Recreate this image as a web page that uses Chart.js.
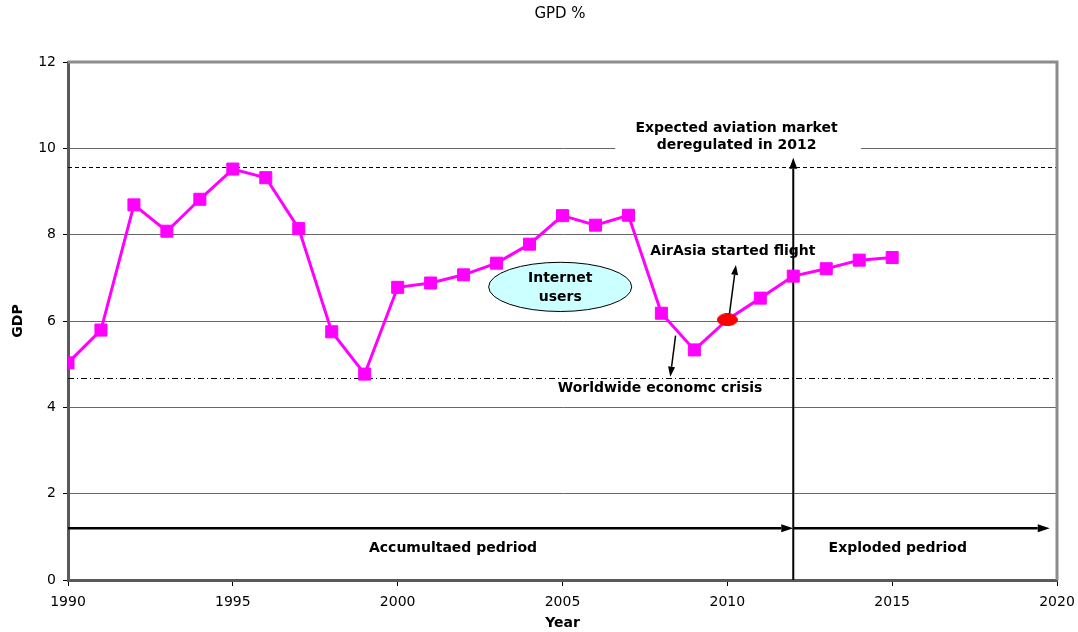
<!DOCTYPE html>
<html>
<head>
<meta charset="utf-8">
<title>GPD %</title>
<script src="https://cdn.jsdelivr.net/npm/chart.js@4.4.0/dist/chart.umd.min.js"></script>
<style>
  html, body { margin: 0; padding: 0; background: #ffffff; }
  #wrap { width: 1078px; height: 632px; }
</style>
</head>
<body>
<div id="wrap"><canvas id="gdpChart" width="1078" height="632"></canvas></div>
<script>
// Annual GDP growth, 1990-2015
const years = [1990, 1991, 1992, 1993, 1994, 1995, 1996, 1997, 1998, 1999, 2000, 2001, 2002,
               2003, 2004, 2005, 2006, 2007, 2008, 2009, 2010, 2011, 2012, 2013, 2014, 2015];
const gdp = [5.03, 5.79, 8.69, 8.08, 8.82, 9.52, 9.32, 8.14, 5.75, 4.77, 6.78, 6.88, 7.07,
             7.34, 7.78, 8.44, 8.22, 8.45, 6.18, 5.33, 6.03, 6.53, 7.04, 7.21, 7.41, 7.47];
const highlightYear = 2010;

const xTickValues = [1990, 1995, 2000, 2005, 2010, 2015, 2020];
const yTickValues = [0, 2, 4, 6, 8, 10, 12];

// Reference levels and milestones
const upperLevel = 9.57;
const lowerLevel = 4.67;
const deregulationYear = 2012;
const periodArrowLevel = 1.2;

const FONT = '"DejaVu Sans", "Liberation Sans", Arial, sans-serif';
const MAGENTA = '#ff00ff';

// Red oval marker for the year AirAsia started flying
function makeOval() {
  const c = document.createElement('canvas');
  c.width = 21; c.height = 13;
  const g = c.getContext('2d');
  g.fillStyle = '#ff0000';
  g.beginPath();
  g.ellipse(10.5, 6.5, 10, 6, 0, 0, Math.PI * 2);
  g.fill();
  g.strokeStyle = '#d00000';
  g.lineWidth = 1;
  g.stroke();
  return c;
}
const oval = makeOval();

const points = years.map((y, i) => ({ x: y, y: gdp[i] }));
const pointStyles = years.map(y => (y === highlightYear ? oval : 'rect'));

function arrow(ctx, x1, y1, x2, y2, width, headLen, headW) {
  const ang = Math.atan2(y2 - y1, x2 - x1);
  const bx = x2 - headLen * Math.cos(ang);
  const by = y2 - headLen * Math.sin(ang);
  ctx.save();
  ctx.strokeStyle = '#000';
  ctx.fillStyle = '#000';
  ctx.lineWidth = width;
  ctx.setLineDash([]);
  ctx.beginPath();
  ctx.moveTo(x1, y1);
  ctx.lineTo(bx, by);
  ctx.stroke();
  ctx.beginPath();
  ctx.moveTo(x2, y2);
  ctx.lineTo(bx + headW / 2 * Math.sin(ang), by - headW / 2 * Math.cos(ang));
  ctx.lineTo(bx - headW / 2 * Math.sin(ang), by + headW / 2 * Math.cos(ang));
  ctx.closePath();
  ctx.fill();
  ctx.restore();
}

function label(ctx, text, x, y, bold, size) {
  ctx.save();
  ctx.fillStyle = '#000';
  ctx.font = (bold ? 'bold ' : '') + size + 'px ' + FONT;
  ctx.textAlign = 'center';
  ctx.textBaseline = 'middle';
  ctx.fillText(text, x, y);
  ctx.restore();
}

const annotations = {
  id: 'annotations',
  beforeDatasetsDraw(chart) {
    const { ctx, chartArea: a, scales: { x, y } } = chart;
    const px = v => x.getPixelForValue(v);
    const py = v => y.getPixelForValue(v);

    ctx.save();
    ctx.beginPath();
    ctx.rect(a.left, a.top, a.right - a.left, a.bottom - a.top);
    ctx.clip();

    // dashed upper level
    ctx.strokeStyle = '#000';
    ctx.lineWidth = 1;
    ctx.setLineDash([4, 3]);
    ctx.beginPath();
    ctx.moveTo(a.left, Math.round(py(upperLevel)) + 0.5);
    ctx.lineTo(a.right, Math.round(py(upperLevel)) + 0.5);
    ctx.stroke();

    // dash-dot lower level
    ctx.setLineDash([6, 3, 1, 3]);
    ctx.beginPath();
    ctx.moveTo(a.left, Math.round(py(lowerLevel)) + 0.5);
    ctx.lineTo(a.right, Math.round(py(lowerLevel)) + 0.5);
    ctx.stroke();
    ctx.setLineDash([]);

    // white label box over the grid
    ctx.fillStyle = '#ffffff';
    ctx.fillRect(px(2006.6), py(10.72), px(2014.05) - px(2006.6), py(9.84) - py(10.72));
    ctx.restore();

    // deregulation marker: vertical arrow at 2012
    arrow(ctx, px(deregulationYear), a.bottom, px(deregulationYear), py(9.78), 2, 11, 8);

    // period arrows
    arrow(ctx, a.left, py(periodArrowLevel), px(deregulationYear), py(periodArrowLevel), 2.5, 12, 8);
    arrow(ctx, px(deregulationYear), py(periodArrowLevel), px(2019.78), py(periodArrowLevel), 2.5, 12, 8);

    // Internet users ellipse
    ctx.save();
    ctx.beginPath();
    ctx.ellipse(px(2004.93), py(6.79), px(2004.93) - px(2002.76), py(6.22) - py(6.79), 0, 0, Math.PI * 2);
    ctx.fillStyle = '#ccffff';
    ctx.fill();
    ctx.strokeStyle = '#000';
    ctx.lineWidth = 1;
    ctx.stroke();
    ctx.restore();
    label(ctx, 'Internet', px(2004.93), py(6.98), true, 14);
    label(ctx, 'users', px(2004.93), py(6.54), true, 14);

    // callouts
    arrow(ctx, px(2010.06), py(6.14), px(2010.26), py(7.30), 1.5, 10, 7);
    arrow(ctx, px(2008.43), py(5.66), px(2008.27), py(4.71), 1.5, 10, 7);

    label(ctx, 'Expected aviation market', px(2010.28), py(10.47), true, 14);
    label(ctx, 'deregulated in 2012', px(2010.28), py(10.06), true, 14);
    label(ctx, 'AirAsia started flight', px(2010.17), py(7.62), true, 14);
    label(ctx, 'Worldwide economc crisis', px(2007.96), py(4.44), true, 14);
    label(ctx, 'Accumultaed pedriod', px(2001.68), py(0.74), true, 14);
    label(ctx, 'Exploded pedriod', px(2015.17), py(0.74), true, 14);

    // gray frame on top and right
    ctx.save();
    ctx.strokeStyle = '#8c8c8c';
    ctx.lineWidth = 3;
    ctx.beginPath();
    ctx.moveTo(a.left, a.top);
    ctx.lineTo(a.right, a.top);
    ctx.lineTo(a.right, a.bottom);
    ctx.stroke();
    ctx.restore();

    // chart title
    label(ctx, 'GPD %', 560, 14, false, 15);
  }
};

new Chart(document.getElementById('gdpChart'), {
  type: 'line',
  data: {
    datasets: [{
      label: 'GDP',
      data: points,
      borderColor: MAGENTA,
      backgroundColor: MAGENTA,
      borderWidth: 3,
      pointStyle: pointStyles,
      pointRadius: 8.5,
      pointBorderWidth: 1,
      pointBorderColor: MAGENTA,
      pointBackgroundColor: MAGENTA,
      tension: 0
    }]
  },
  options: {
    responsive: false,
    animation: false,
    devicePixelRatio: 1,
    layout: { padding: { top: 62, right: 21, left: 0, bottom: 0 } },
    plugins: {
      legend: { display: false },
      tooltip: { enabled: false },
      title: { display: false }
    },
    scales: {
      x: {
        type: 'linear',
        min: 1990,
        max: 2020,
        afterBuildTicks: s => { s.ticks = xTickValues.map(v => ({ value: v })); },
        afterFit: s => { s.height = 52; s.paddingLeft = 0; s.paddingRight = 0; },
        ticks: {
          callback: v => String(v),
          color: '#000',
          font: { family: FONT, size: 14 },
          padding: 8,
          maxRotation: 0,
          autoSkip: false
        },
        grid: { drawOnChartArea: false, drawTicks: true, tickLength: 6, tickColor: '#000' },
        border: { display: true, color: '#5a5a5a', width: 3 },
        title: {
          display: true,
          text: 'Year',
          color: '#000',
          font: { family: FONT, size: 14, weight: 'bold' },
          padding: { top: 0, bottom: 0 }
        }
      },
      y: {
        min: 0,
        max: 12,
        afterBuildTicks: s => { s.ticks = yTickValues.map(v => ({ value: v })); },
        afterFit: s => { s.width = 68; s.paddingTop = 0; s.paddingBottom = 0; },
        ticks: {
          callback: v => String(v),
          color: '#000',
          font: { family: FONT, size: 14 },
          padding: 7
        },
        grid: {
          drawOnChartArea: true,
          drawTicks: true,
          tickLength: 5,
          color: '#666666',
          tickColor: '#000',
          lineWidth: 1
        },
        border: { display: true, color: '#5a5a5a', width: 3 },
        title: {
          display: true,
          text: 'GDP',
          color: '#000',
          font: { family: FONT, size: 14, weight: 'bold' },
          padding: { top: 10, bottom: 0 }
        }
      }
    }
  },
  plugins: [annotations]
});
</script>
</body>
</html>
